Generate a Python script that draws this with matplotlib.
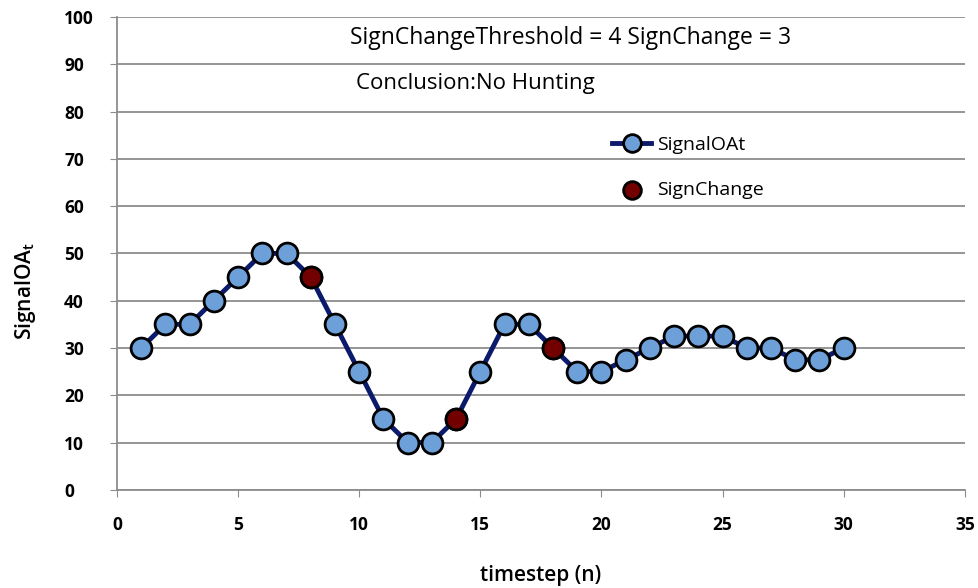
import matplotlib.pyplot as plt
import numpy as np

plt.rcParams['font.family'] = ['Open Sans', 'DejaVu Sans']

# data
timestep = list(range(1, 31))
signal = [30, 35, 35, 40, 45, 50, 50, 45, 35, 25,
          15, 10, 10, 15, 25, 35, 35, 30, 25, 25,
          27.5, 30, 32.5, 32.5, 32.5, 30, 30, 27.5, 27.5, 30]
change_x = [8, 14, 18]
change_y = [45, 15, 30]

fig = plt.figure(figsize=(9.79, 5.88), dpi=100)
ax = fig.add_axes([0.1195, 0.167, 0.866, 0.804])

ax.plot(timestep, signal, color='#0b1a6b', lw=3.5, marker='o', ms=15,
        mfc='#6d9fd9', mec='black', mew=2, label='SignalOAt', zorder=3)
ax.scatter(change_x, change_y, s=225, c='#720000', edgecolors='black',
           linewidths=2, label='SignChange', zorder=4)

ax.set_xlim(0, 35)
ax.set_ylim(0, 100)
ax.set_xticks(np.arange(0, 36, 5))
ax.set_yticks(np.arange(0, 101, 10))
ax.yaxis.grid(True, color='#8c8c8c', lw=1.3)
ax.set_axisbelow(True)
for s in ['top', 'right']:
    ax.spines[s].set_visible(False)
for s in ['left', 'bottom']:
    ax.spines[s].set_color('#8c8c8c')
    ax.spines[s].set_linewidth(1.3)
ax.tick_params(axis='both', length=5, color='#8c8c8c', labelsize=12.5)
ax.tick_params(axis='x', pad=14)
ax.tick_params(axis='y', pad=33)
for lbl in ax.get_xticklabels() + ax.get_yticklabels():
    lbl.set_fontweight('bold')
for lbl in ax.get_yticklabels():
    lbl.set_horizontalalignment('left')

ax.set_xlabel('timestep (n)', fontsize=15, fontweight='semibold', labelpad=22)
ax.set_ylabel('SignalOA$_\\mathregular{t}$', fontsize=15, fontweight='semibold')
ax.yaxis.set_label_coords(-0.093, 0.42)

ax.text(0.535, 0.955, 'SignChangeThreshold = 4 SignChange = 3', transform=ax.transAxes,
        ha='center', va='center', fontsize=16.5)
ax.text(0.282, 0.86, 'Conclusion:No Hunting', transform=ax.transAxes,
        ha='left', va='center', fontsize=16)

ax.legend(loc='upper left', bbox_to_anchor=(0.575, 0.765), frameon=False,
          fontsize=14, handlelength=2.0, labelspacing=1.4, borderaxespad=0,
          markerscale=0.85, handletextpad=0.3)

fig.savefig('out.png', dpi=100)
